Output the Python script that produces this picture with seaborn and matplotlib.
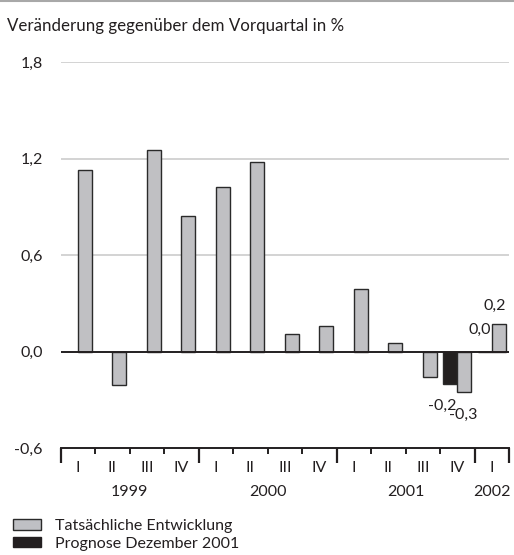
import matplotlib
matplotlib.use("Agg")
import matplotlib.pyplot as plt
import matplotlib.transforms as mtransforms
from matplotlib.patches import Patch
from matplotlib.lines import Line2D
import seaborn as sns
import pandas as pd
import numpy as np

# ---- data ----
years = ["1999", "2000", "2001", "2002"]
quarter_names = ["I", "II", "III", "IV"]
quarters = ["1999 I", "1999 II", "1999 III", "1999 IV",
            "2000 I", "2000 II", "2000 III", "2000 IV",
            "2001 I", "2001 II", "2001 III", "2001 IV",
            "2002 I"]
actual = [1.13, -0.21, 1.25, 0.84, 1.02, 1.18, 0.11, 0.16, 0.39, 0.05, -0.16, -0.25, 0.17]
forecast = [np.nan] * 11 + [-0.20, 0.00]
series_actual = "Tatsächliche Entwicklung"
series_forecast = "Prognose Dezember 2001"
forecast_labels = {"2001 IV": "-0,2", "2002 I": "0,0"}
actual_labels = {"2001 IV": "-0,3", "2002 I": "0,2"}
yticks = [-0.6, 0.0, 0.6, 1.2, 1.8]
ytick_labels = ["-0,6", "0,0", "0,6", "1,2", "1,8"]

df = pd.DataFrame({
    "quartal": quarters * 2,
    "serie": [series_forecast] * len(quarters) + [series_actual] * len(quarters),
    "wert": forecast + actual,
})

# ---- style ----
sns.set_theme(style="white")
plt.rcParams["font.family"] = ["Lato", "DejaVu Sans"]
GRAY = "#bfc0c4"
BLACK = "#231f20"
EDGE = "#2a2a2a"
TXT = "#231f20"
FS = 11.5

fig = plt.figure(figsize=(5.14, 5.55), dpi=100)
W, H = 514, 555
ax = fig.add_axes([60.7 / W, 1 - 448 / H, (509 - 60.7) / W, (448 - 62) / H])

sns.barplot(data=df, x="quartal", y="wert", hue="serie",
            order=quarters, hue_order=[series_forecast, series_actual],
            palette={series_forecast: BLACK, series_actual: GRAY},
            dodge=True, width=0.8, edgecolor=EDGE, linewidth=1.0,
            legend=False, ax=ax, zorder=3)

ax.set_xlim(-0.5, len(quarters) - 0.5)
ax.set_ylim(-0.6, 1.8)
ax.set_xlabel("")
ax.set_ylabel("")

# gridlines
for yv in [0.6, 1.2, 1.8]:
    ax.axhline(yv, color="#c8c8c8", lw=1.1, zorder=1)
ax.axhline(0.0, color=TXT, lw=1.4, zorder=4)

# spines
for s in ["top", "right", "left"]:
    ax.spines[s].set_visible(False)
ax.spines["bottom"].set_color(TXT)
ax.spines["bottom"].set_linewidth(1.4)

# y ticks
ax.set_yticks(yticks)
ax.set_yticklabels(ytick_labels, fontsize=FS, color=TXT)
ax.tick_params(axis="y", length=0, pad=13)

# x ticks: boundaries
n = len(quarters)
year_bounds = [-0.5, 3.5, 7.5, 11.5, 12.5]
quarter_bounds = [i + 0.5 for i in range(n - 1) if (i + 0.5) not in year_bounds]
ax.set_xticks(year_bounds)
ax.set_xticks(quarter_bounds, minor=True)
ax.set_xticklabels([])
ax.tick_params(axis="x", which="both", bottom=True, labelbottom=False)
ax.tick_params(axis="x", which="major", direction="out", length=11, width=1.6, color=TXT)
ax.tick_params(axis="x", which="minor", direction="out", length=4, width=1.4, color=TXT)

trans = mtransforms.blended_transform_factory(ax.transData, ax.transAxes)
for i, q in enumerate(quarters):
    ax.text(i, -20 / 386, q.split(" ")[1], transform=trans, ha="center", va="center",
            fontsize=FS, color=TXT)
for y in years:
    idx = [i for i, q in enumerate(quarters) if q.startswith(y)]
    ax.text(np.mean(idx), -44 / 386, y, transform=trans, ha="center", va="center",
            fontsize=FS, color=TXT)

# value labels
for q, lab in forecast_labels.items():
    i = quarters.index(q)
    v = forecast[i]
    if v < 0:
        ax.annotate(lab, (i - 0.2, v), xytext=(-6, -16), textcoords="offset points",
                    ha="center", va="center", fontsize=FS, color=TXT)
    else:
        ax.annotate(lab, (i + 0.0, 0.17), xytext=(-0.5, 1), textcoords="offset points",
                    ha="right", va="top", fontsize=FS, color=TXT)
for q, lab in actual_labels.items():
    i = quarters.index(q)
    v = actual[i]
    if v < 0:
        ax.annotate(lab, (i + 0.2, v), xytext=(-1, -17), textcoords="offset points",
                    ha="center", va="center", fontsize=FS, color=TXT)
    else:
        ax.annotate(lab, (i + 0.2, v), xytext=(-3, 13), textcoords="offset points",
                    ha="center", va="center", fontsize=FS, color=TXT)

# title & top rule
fig.text(7 / W, 1 - 26 / H, "Veränderung gegenüber dem Vorquartal in %",
         ha="left", va="center", fontsize=12.2, color=TXT)
fig.add_artist(Line2D([0, 1], [1 - 1 / H, 1 - 1 / H], color="#a8a8a8", lw=1.5,
                      transform=fig.transFigure))

# legend
handles = [Patch(facecolor=GRAY, edgecolor=EDGE, linewidth=1.0, label=series_actual),
           Patch(facecolor=BLACK, edgecolor=BLACK, linewidth=1.0, label=series_forecast)]
fig.legend(handles=handles, loc="upper left", bbox_to_anchor=(13 / W, 1 - 519 / H),
           frameon=False, fontsize=FS, handlelength=1.75, handleheight=0.62,
           handletextpad=0.85, labelspacing=0.22, borderpad=0, borderaxespad=0,
           labelcolor=TXT)

fig.savefig("out.png", dpi=100)
